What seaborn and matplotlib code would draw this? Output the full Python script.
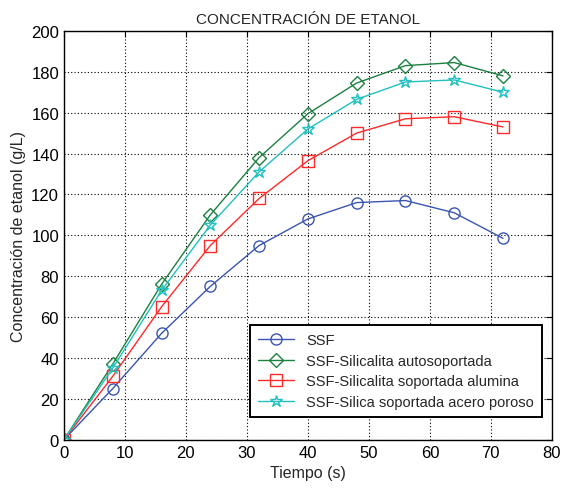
import matplotlib
matplotlib.use("Agg")
import matplotlib.pyplot as plt
import seaborn as sns
import pandas as pd

tiempo = [0, 8, 16, 24, 32, 40, 48, 56, 64, 72]
ssf = [0, 25, 52, 75, 95, 108, 116, 117, 111, 98.5]
silicalita_auto = [0, 37, 76, 110, 138, 159.5, 174.5, 183, 184.5, 178]
silicalita_alumina = [0, 31, 65, 95, 118, 136.5, 150, 157, 158, 153]
silica_acero = [0, 35, 73, 105, 131, 152, 166.5, 175, 176, 170]

labels = ["SSF", "SSF-Silicalita autosoportada",
          "SSF-Silicalita soportada alumina", "SSF-Silica soportada acero poroso"]
series = [ssf, silicalita_auto, silicalita_alumina, silica_acero]
colors = ["#3a55b0", "#1c8040", "#ff2a2a", "#22c0c0"]
markers = ["o", "D", "s", "*"]
msizes = [8, 7, 8, 9]

sns.set_style("white")
plt.rcParams["font.family"] = ["Liberation Sans", "DejaVu Sans"]

fig = plt.figure(figsize=(5.66, 4.89), dpi=100)
ax = fig.add_axes([0.113, 0.0988, 0.862, 0.836])

for lab, vals, c, m, ms in zip(labels, series, colors, markers, msizes):
    df = pd.DataFrame({"t": tiempo, "c": vals})
    sns.lineplot(data=df, x="t", y="c", ax=ax, color=c, marker=m,
                 markersize=ms, markerfacecolor="none", markeredgecolor=c,
                 markeredgewidth=1.0, linewidth=1.0, label=lab)

ax.set_xlim(0, 80)
ax.set_ylim(0, 200)
ax.set_xticks(range(0, 81, 10))
ax.set_yticks(range(0, 201, 20))
ax.grid(True, color="black", linestyle=(0, (1, 2)), linewidth=0.8)
ax.tick_params(direction="in", top=True, right=True, length=4,
               labelsize=12, colors="black")
for sp in ax.spines.values():
    sp.set_color("black")
    sp.set_linewidth(1.0)

ax.set_title("CONCENTRACIÓN DE ETANOL", fontsize=11)
ax.set_xlabel("Tiempo (s)", fontsize=11.5)
ax.set_ylabel("Concentración de etanol (g/L)", fontsize=11.5)

leg = ax.legend(loc="lower right", bbox_to_anchor=(0.9795, 0.0555),
                borderaxespad=0, fontsize=10.5, frameon=True, fancybox=False,
                edgecolor="black", framealpha=1, handlelength=2.5,
                labelspacing=0.45, borderpad=0.55)
leg.get_frame().set_linewidth(1.4)

fig.savefig("out.png", dpi=100)
